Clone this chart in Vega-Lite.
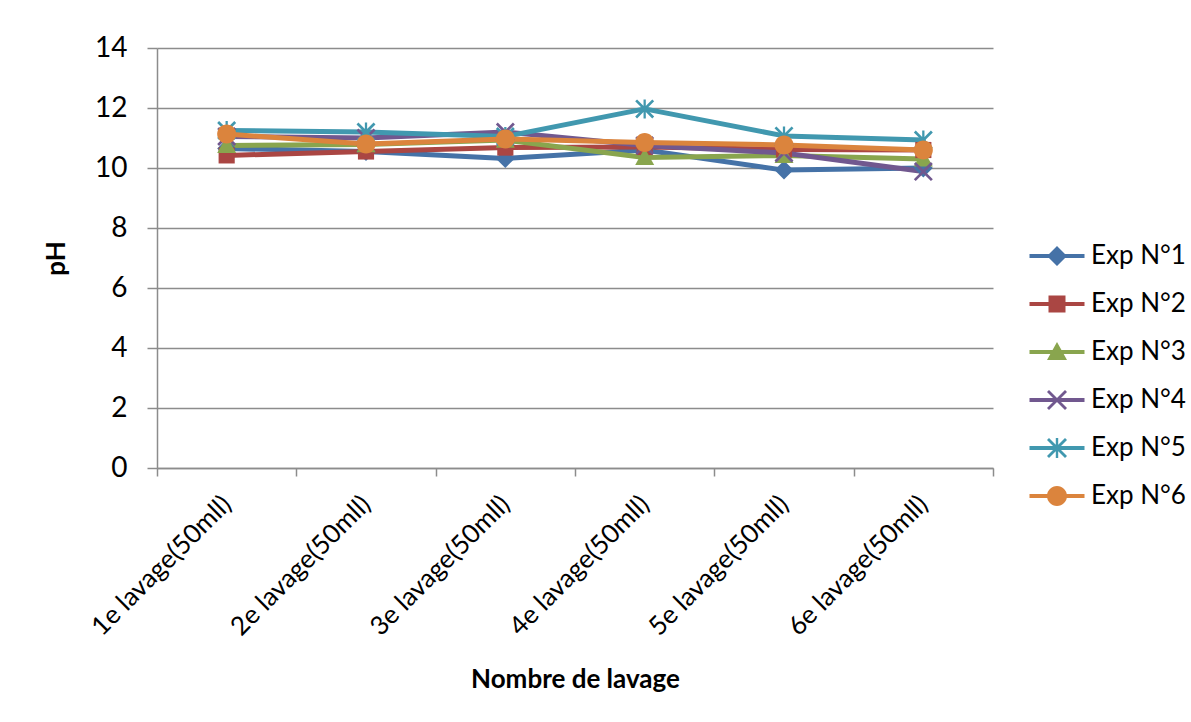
{
  "$schema": "https://vega.github.io/schema/vega-lite/v6.json",
  "width": 836,
  "height": 420,
  "autosize": {"type": "none"},
  "padding": {"left": 157, "top": 48, "right": 198, "bottom": 254},
  "background": "white",
  "config": {
    "font": "Lato",
    "view": {"stroke": null},
    "axis": {
      "labelFont": "Lato",
      "titleFont": "Lato",
      "labelColor": "#000000",
      "titleColor": "#000000",
      "domainColor": "#8c8c8c",
      "tickColor": "#8c8c8c",
      "gridColor": "#8c8c8c",
      "domainWidth": 1.5,
      "tickWidth": 1.5,
      "gridWidth": 1.5
    }
  },
  "data": {
    "values": [
      {"lavage": "1e lavage(50mll)", "exp": "Exp N°1", "ph": 10.65},
      {"lavage": "2e lavage(50mll)", "exp": "Exp N°1", "ph": 10.55},
      {"lavage": "3e lavage(50mll)", "exp": "Exp N°1", "ph": 10.32},
      {"lavage": "4e lavage(50mll)", "exp": "Exp N°1", "ph": 10.6},
      {"lavage": "5e lavage(50mll)", "exp": "Exp N°1", "ph": 9.93},
      {"lavage": "6e lavage(50mll)", "exp": "Exp N°1", "ph": 10.0},
      {"lavage": "1e lavage(50mll)", "exp": "Exp N°2", "ph": 10.42},
      {"lavage": "2e lavage(50mll)", "exp": "Exp N°2", "ph": 10.55},
      {"lavage": "3e lavage(50mll)", "exp": "Exp N°2", "ph": 10.68},
      {"lavage": "4e lavage(50mll)", "exp": "Exp N°2", "ph": 10.7},
      {"lavage": "5e lavage(50mll)", "exp": "Exp N°2", "ph": 10.62},
      {"lavage": "6e lavage(50mll)", "exp": "Exp N°2", "ph": 10.6},
      {"lavage": "1e lavage(50mll)", "exp": "Exp N°3", "ph": 10.75},
      {"lavage": "2e lavage(50mll)", "exp": "Exp N°3", "ph": 10.78},
      {"lavage": "3e lavage(50mll)", "exp": "Exp N°3", "ph": 10.93},
      {"lavage": "4e lavage(50mll)", "exp": "Exp N°3", "ph": 10.35},
      {"lavage": "5e lavage(50mll)", "exp": "Exp N°3", "ph": 10.42},
      {"lavage": "6e lavage(50mll)", "exp": "Exp N°3", "ph": 10.3},
      {"lavage": "1e lavage(50mll)", "exp": "Exp N°4", "ph": 11.05},
      {"lavage": "2e lavage(50mll)", "exp": "Exp N°4", "ph": 11.0},
      {"lavage": "3e lavage(50mll)", "exp": "Exp N°4", "ph": 11.2},
      {"lavage": "4e lavage(50mll)", "exp": "Exp N°4", "ph": 10.75},
      {"lavage": "5e lavage(50mll)", "exp": "Exp N°4", "ph": 10.5},
      {"lavage": "6e lavage(50mll)", "exp": "Exp N°4", "ph": 9.88},
      {"lavage": "1e lavage(50mll)", "exp": "Exp N°5", "ph": 11.25},
      {"lavage": "2e lavage(50mll)", "exp": "Exp N°5", "ph": 11.2},
      {"lavage": "3e lavage(50mll)", "exp": "Exp N°5", "ph": 11.05},
      {"lavage": "4e lavage(50mll)", "exp": "Exp N°5", "ph": 11.97},
      {"lavage": "5e lavage(50mll)", "exp": "Exp N°5", "ph": 11.07},
      {"lavage": "6e lavage(50mll)", "exp": "Exp N°5", "ph": 10.93},
      {"lavage": "1e lavage(50mll)", "exp": "Exp N°6", "ph": 11.13},
      {"lavage": "2e lavage(50mll)", "exp": "Exp N°6", "ph": 10.8},
      {"lavage": "3e lavage(50mll)", "exp": "Exp N°6", "ph": 10.97},
      {"lavage": "4e lavage(50mll)", "exp": "Exp N°6", "ph": 10.85},
      {"lavage": "5e lavage(50mll)", "exp": "Exp N°6", "ph": 10.77},
      {"lavage": "6e lavage(50mll)", "exp": "Exp N°6", "ph": 10.6}
    ]
  },
  "encoding": {
    "x": {
      "field": "lavage",
      "type": "nominal",
      "sort": null,
      "scale": {"type": "band", "paddingInner": 0, "paddingOuter": 0},
      "axis": {
        "title": "Nombre de lavage",
        "titleFontSize": 26,
        "titleFontWeight": "bold",
        "titlePadding": 26,
        "labelAngle": -45,
        "labelAlign": "right",
        "labelBaseline": "middle",
        "labelFontSize": 26,
        "labelLimit": 0,
        "labelPadding": 24,
        "labelDx": 5,
        "tickBand": "extent",
        "tickSize": 8,
        "grid": false
      }
    },
    "y": {
      "field": "ph",
      "type": "quantitative",
      "scale": {"domain": [0, 14], "nice": false, "zero": true},
      "axis": {
        "title": "pH",
        "titleFontSize": 26,
        "titleFontWeight": "bold",
        "titlePadding": 25,
        "values": [0, 2, 4, 6, 8, 10, 12, 14],
        "labelFontSize": 28,
        "labelPadding": 20,
        "tickSize": 10,
        "grid": true
      }
    }
  },
  "layer": [
    {
      "mark": {"type": "line", "strokeWidth": 5, "strokeJoin": "round", "strokeCap": "round"},
      "encoding": {
        "color": {
          "field": "exp",
          "type": "nominal",
          "scale": {
            "domain": ["Exp N°1", "Exp N°2", "Exp N°3", "Exp N°4", "Exp N°5", "Exp N°6"],
            "range": ["#4572A7", "#AA4643", "#89A54E", "#71588F", "#4198AF", "#DB843D"]
          },
          "legend": {
            "title": null,
            "orient": "none",
            "legendX": 869,
            "legendY": 195,
            "padding": 0,
            "symbolSize": 400,
            "symbolOffset": 18,
            "labelOffset": 21,
            "labelFont": "Lato",
            "labelFontSize": 26,
            "labelColor": "#000000",
            "labelLimit": 0,
            "rowPadding": 22,
            "symbolStrokeWidth": 0,
            "symbolOpacity": 1,
            "encode": {
              "symbols": {
                "update": {
                  "shape": {"signal": "'M-2.75,-0.2L2.75,-0.2L2.75,0.2L-2.75,0.2Z ' + scale('shape', datum.value)"},
                  "fill": {"signal": "scale('color', datum.value)"},
                  "strokeWidth": {"value": 0}
                }
              }
            }
          }
        }
      }
    },
    {
      "mark": {"type": "point", "filled": true, "opacity": 1, "size": 361},
      "encoding": {
        "color": {
          "field": "exp",
          "type": "nominal",
          "scale": {
            "domain": ["Exp N°1", "Exp N°2", "Exp N°3", "Exp N°4", "Exp N°5", "Exp N°6"],
            "range": ["#4572A7", "#AA4643", "#89A54E", "#71588F", "#4198AF", "#DB843D"]
          },
          "legend": null
        },
        "shape": {
          "field": "exp",
          "type": "nominal",
          "scale": {
            "domain": ["Exp N°1", "Exp N°2", "Exp N°3", "Exp N°4", "Exp N°5", "Exp N°6"],
            "range": [
              "M0,-1L1,0L0,1L-1,0Z",
              "M-0.85,-0.85L0.85,-0.85L0.85,0.85L-0.85,0.85Z",
              "M0,-1L1,0.8L-1,0.8Z",
              "M-1,-0.8L-0.8,-1L1,0.8L0.8,1Z M0.8,-1L1,-0.8L-0.8,1L-1,0.8Z",
              "M-1,-0.8L-0.8,-1L1,0.8L0.8,1Z M0.8,-1L1,-0.8L-0.8,1L-1,0.8Z M-0.12,-1L0.12,-1L0.12,1L-0.12,1Z",
              "M1,0A1,1,0,1,1,-1,0A1,1,0,1,1,1,0Z"
            ]
          },
          "legend": null
        }
      }
    }
  ],
  "resolve": {"legend": {"color": "independent", "shape": "independent"}}
}
